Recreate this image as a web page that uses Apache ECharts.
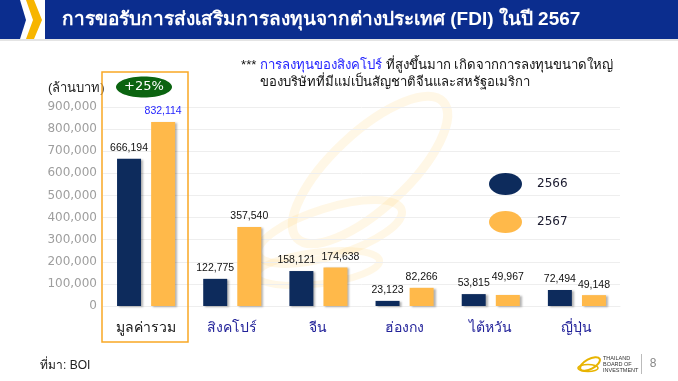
<!DOCTYPE html>
<html><head><meta charset="utf-8">
<script src="https://cdn.jsdelivr.net/npm/echarts@6/dist/echarts.min.js"></script>
<style>html,body{margin:0;padding:0;background:#fff}#c{width:678px;height:381px}</style>
</head><body><div id="c"></div>
<script>
const categories = ['มูลค่ารวม', 'สิงคโปร์', 'จีน', 'ฮ่องกง', 'ไต้หวัน', 'ญี่ปุ่น'];
const val2566 = [666194, 122775, 158121, 23123, 53815, 72494];
const val2567 = [832114, 357540, 174638, 82266, 49967, 49148];
const seriesNames = ['2566', '2567'];
const yTicks = [0, 100000, 200000, 300000, 400000, 500000, 600000, 700000, 800000, 900000];

const fmt = v => v.toLocaleString('en-US');
const NAVY = '#0d2b5c', GOLD = '#ffb94a';
const chart = echarts.init(document.getElementById('c'));
const barShadow = {shadowColor:'rgba(0,0,0,0.3)', shadowOffsetX:2, shadowOffsetY:1, shadowBlur:2};
const lbl = {show:true, position:'top', distance:5, color:'#111', fontFamily:'Liberation Sans, Arial', fontSize:10.5, formatter: p => fmt(p.value)};

// label nudges to avoid overlaps (style only)
const off2566 = {2:[-5,0]};
const off2567 = {2:[5,0], 4:[0,-7]};

chart.setOption({
  animation:false,
  grid:{left:103, right:58, top:107, bottom:75},
  legend:{
    orient:'vertical', left:484, top:168, itemWidth:33, itemHeight:22, itemGap:16,
    icon:'path://M0,50 A50,50 0 1,1 100,50 A50,50 0 1,1 0,50 Z', symbolKeepAspect:false,
    textStyle:{color:'#1a1a2e', fontSize:12, fontFamily:'DejaVu Sans', padding:[0,0,0,10]},
    data: seriesNames
  },
  xAxis:{
    type:'category', data:categories,
    axisLine:{lineStyle:{color:'#eeeeee'}}, axisTick:{show:false},
    axisLabel:{margin:15, fontSize:14, fontWeight:500, color: (v,i) => i===0 ? '#111111' : '#23239a'}
  },
  yAxis:{
    type:'value', min:yTicks[0], max:yTicks[yTicks.length-1], interval:100000,
    axisLine:{show:false}, axisTick:{show:false},
    splitLine:{lineStyle:{color:'#eeeeee'}},
    axisLabel:{margin:6, color:'#9e9e9e', fontSize:12, fontFamily:'DejaVu Sans', formatter: v => fmt(v)}
  },
  series:[
    {name:seriesNames[0], type:'bar', barWidth:24, barGap:'42%',
     data: val2566.map((v,i)=> off2566[i] ? {value:v, label:{offset:off2566[i]}} : v),
     itemStyle:Object.assign({color:NAVY}, barShadow), label:lbl, z:3},
    {name:seriesNames[1], type:'bar', barWidth:24,
     data: val2567.map((v,i)=> {
       const o = {value:v, label:{}};
       if (i===0) o.label.color = '#1f1fff';
       if (off2567[i]) o.label.offset = off2567[i];
       return o;
     }),
     itemStyle:Object.assign({color:GOLD}, barShadow), label:lbl, z:3}
  ],
  graphic:[
    // watermark loops
    {type:'ellipse', shape:{cx:0,cy:0,rx:100,ry:38}, x:370, y:170, rotation:0.75, style:{fill:'none', stroke:'rgba(255,200,90,0.15)', lineWidth:9}, z:-1},
    {type:'ellipse', shape:{cx:0,cy:0,rx:75,ry:24}, x:330, y:232, rotation:0.3, style:{fill:'none', stroke:'rgba(255,200,90,0.15)', lineWidth:8}, z:-1},
    {type:'ellipse', shape:{cx:0,cy:0,rx:62,ry:16}, x:318, y:268, rotation:0.12, style:{fill:'none', stroke:'rgba(255,200,90,0.15)', lineWidth:7}, z:-1},
    // title bar
    {type:'polygon', shape:{points:[[0,0],[20,0],[26,20],[20,39],[0,39]]}, style:{fill:'#0b2d8e'}},
    {type:'polygon', shape:{points:[[26,0],[34,0],[42,20],[34,39],[26,39],[33,20]]}, style:{fill:'#f7b500'}},
    {type:'rect', shape:{x:45, y:0, width:633, height:39}, style:{fill:'#0b2d8e'}},
    {type:'rect', shape:{x:0, y:39, width:678, height:2}, style:{fill:'#e4e4e4'}},
    {type:'text', x:62, y:20, style:{text:'การขอรับการส่งเสริมการลงทุนจากต่างประเทศ (FDI) ในปี 2567', fill:'#ffffff', fontSize:19, fontWeight:'bold', verticalAlign:'middle'}},
    // annotation
    {type:'text', x:241, y:65, style:{
      text:'{a|*** }{b|การลงทุนของสิงคโปร์}{a| ที่สูงขึ้นมาก เกิดจากการลงทุนขนาดใหญ่}',
      verticalAlign:'middle',
      rich:{a:{fontSize:13.2, fill:'#111'}, b:{fontSize:13.2, fill:'#1f1fff'}}}},
    {type:'text', x:260, y:82, style:{text:'ของบริษัทที่มีแม่เป็นสัญชาติจีนและสหรัฐอเมริกา', fontSize:13.1, fill:'#111', verticalAlign:'middle'}},
    // unit
    {type:'text', x:48, y:88, style:{text:'(ล้านบาท)', fontSize:13, fill:'#222', verticalAlign:'middle'}},
    // highlight box
    {type:'rect', shape:{x:102, y:72, width:86, height:270}, style:{fill:'none', stroke:'#f9a825', lineWidth:1.5}, z:10},
    {type:'ellipse', shape:{cx:144, cy:87, rx:28, ry:10.5}, style:{fill:'#0b6410'}, z:10},
    {type:'text', x:144, y:87, style:{text:'+25%', fill:'#fff', fontSize:13, fontFamily:'DejaVu Sans', align:'center', verticalAlign:'middle'}, z:11},
    // footer
    {type:'text', x:40, y:366, style:{text:'ที่มา: BOI', fontSize:12, fill:'#222', verticalAlign:'middle'}},
    {type:'ellipse', shape:{cx:590, cy:364, rx:11, ry:5}, rotation:0.5, originX:590, originY:364, style:{fill:'none', stroke:'#e8b400', lineWidth:2}},
    {type:'ellipse', shape:{cx:588, cy:368, rx:10, ry:3.5}, style:{fill:'none', stroke:'#e8b400', lineWidth:1.5}},
    {type:'text', x:603, y:364, style:{text:'THAILAND\nBOARD OF\nINVESTMENT', fontSize:5.5, lineHeight:6, fill:'#333', verticalAlign:'middle', fontFamily:'Liberation Sans'}},
    {type:'rect', shape:{x:641, y:354, width:1, height:20}, style:{fill:'#bbb'}},
    {type:'text', x:653, y:364, style:{text:'8', fontSize:12, fill:'#888', align:'center', verticalAlign:'middle'}}
  ]
});
</script></body></html>
